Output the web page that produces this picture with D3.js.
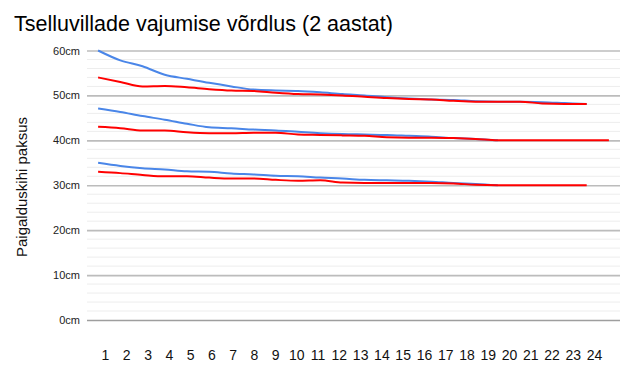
<!DOCTYPE html>
<meta charset="utf-8">
<script src="https://d3js.org/d3.v7.min.js"></script>
<style>
  body { margin: 0; background: #fff; }
  text { font-family: "Liberation Sans", Arial, sans-serif; }
</style>
<body>
<svg width="633" height="375"></svg>
<script>
    // data
    let days = d3.range(1, 25)
    let yTicks = [0, 10, 20, 30, 40, 50, 60]

    let blueTop = [60, 57.8, 56.5, 54.6, 53.7, 52.8, 52.0, 51.3, 51.1, 51.0, 50.7, 50.3, 50.0, 49.6, 49.3, 49.1, 49.0, 48.7, 48.6, 48.6, 48.5, 48.3, 48.1, null]
    let redTop = [54.0, 53.0, 52.0, 52.1, 51.8, 51.4, 51.1, 51.0, 50.6, 50.3, 50.2, 50.0, 49.7, 49.4, 49.2, 49.1, 48.8, 48.6, 48.6, 48.6, 48.2, 48.1, 48.1, null]
    let blueMid = [47.1, 46.3, 45.4, 44.6, 43.7, 42.9, 42.7, 42.4, 42.2, 41.9, 41.6, 41.4, 41.3, 41.2, 41.0, 40.8, 40.5, 40.3, 40.0, null, null, null, null, null]
    let redMid = [43.0, 42.7, 42.2, 42.2, 41.8, 41.6, 41.6, 41.7, 41.7, 41.3, 41.2, 41.1, 41.0, 40.7, 40.6, 40.6, 40.5, 40.3, 40.0, 40.0, 40.0, 40.0, 40.0, 40.0]
    let blueLow = [35.0, 34.3, 33.8, 33.5, 33.1, 33.0, 32.6, 32.4, 32.1, 32.0, 31.7, 31.5, 31.2, 31.1, 31.0, 30.8, 30.5, 30.3, 30.0, null, null, null, null, null]
    let redLow = [33.0, 32.7, 32.3, 32.0, 32.0, 31.7, 31.5, 31.5, 31.2, 31.0, 31.1, 30.6, 30.5, 30.5, 30.5, 30.5, 30.4, 30.1, 30.0, 30.0, 30.0, 30.0, 30.0, null]

    let blue = '#4a86e8', red = '#ff0000'
    let series = [
        {values: blueTop, color: blue}, {values: blueMid, color: blue}, {values: blueLow, color: blue},
        {values: redTop, color: red}, {values: redMid, color: red}, {values: redLow, color: red}
    ]

    let svg = d3.select('svg')
    let plotL = 87, plotR = 620, plotT = 50.5, plotB = 320

    let x = d3.scalePoint().domain(days).range([plotL, plotR]).padding(0.5)
    let xLab = d3.scalePoint().domain(days).range([105, 594])
    let y = d3.scaleLinear().domain([0, 60]).range([plotB, plotT])

    // minor grid
    svg.append('g').selectAll('line').data(d3.range(0, 60, 2).filter(v => v % 10 != 0)).enter().append('line')
        .attr('x1', plotL).attr('x2', plotR)
        .attr('y1', d => y(d)).attr('y2', d => y(d))
        .style('stroke', '#ededed').style('stroke-width', 1)

    // major grid + labels
    let yAxis = svg.append('g').attr('transform', `translate(${plotL},0)`)
        .call(d3.axisLeft(y).tickValues(yTicks).tickSize(-(plotR - plotL)).tickPadding(7).tickFormat(d => d + 'cm'))
    yAxis.select('.domain').remove()
    yAxis.selectAll('.tick line').style('stroke', d => d == 0 ? '#9e9e9e' : '#bcbcbc').style('stroke-width', 1.6)
    yAxis.selectAll('.tick text').style('font-size', '11px').style('fill', '#222')
        .style('font-family', '"Liberation Sans", Arial, sans-serif')

    // x labels
    let xAxis = svg.append('g').attr('transform', `translate(0,${plotB})`)
        .call(d3.axisBottom(xLab).tickSize(0).tickPadding(30))
    xAxis.select('.domain').remove()
    xAxis.selectAll('.tick text').style('font-size', '14px').style('fill', '#111')
        .style('font-family', '"Liberation Sans", Arial, sans-serif')

    let line = d3.line()
        .defined(d => d != null)
        .x((d, i) => x(days[i]))
        .y(d => y(d))
        .curve(d3.curveMonotoneX)

    svg.append('g').selectAll('path').data(series).enter().append('path')
        .attr('d', d => line(d.values))
        .style('fill', 'none')
        .style('stroke', d => d.color)
        .style('stroke-width', 2)
        .style('stroke-linejoin', 'round')

    svg.append('text').attr('x', 14).attr('y', 31)
        .style('font-size', '21.5px').style('fill', '#000')
        .text('Tselluvillade vajumise võrdlus (2 aastat)')

    svg.append('text')
        .attr('transform', 'translate(27,187) rotate(-90)')
        .attr('text-anchor', 'middle')
        .style('font-size', '15px').style('fill', '#111')
        .text('Paigalduskihi paksus')
</script>
</body>
